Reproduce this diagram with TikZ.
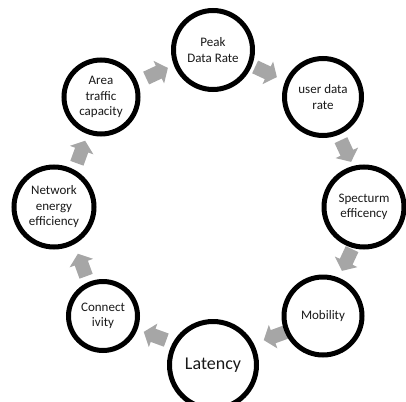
\documentclass[tikz,border=0pt]{standalone}
\usepackage{fontspec}
\setmainfont{Carlito}
\begin{document}
\begin{tikzpicture}[x=1pt,y=-1pt,
  stage/.style={circle, draw=black, line width=5pt, fill=white, align=center,
    font=\fontsize{13}{15.5}\selectfont, text=black!90, inner sep=0pt},
  flowfill/.style={fill=black!35, draw=none},
  blockarrow/.pic={\fill[flowfill] (-12,-7) -- (2,-7) -- (2,-12.5) -- (12,0) -- (2,12.5) -- (2,7) -- (-12,7) -- cycle;}
]
\useasboundingbox (0,0) rectangle (406,401);
\coordinate (a1) at (157,73);
\coordinate (a2) at (266,72);
\coordinate (a3) at (346,151);
\coordinate (a4) at (347,260);
\coordinate (a5) at (275,336);
\coordinate (a6) at (155,336);
\coordinate (a7) at (82,265);
\coordinate (a8) at (81,152);
\pic[rotate=25] at (a1) {blockarrow};
\pic[rotate=-25] at (a2) {blockarrow};
\pic[rotate=-65] at (a3) {blockarrow};
\pic[rotate=-115] at (a4) {blockarrow};
\pic[rotate=200] at (a5) {blockarrow};
\pic[rotate=160] at (a6) {blockarrow};
\pic[rotate=110] at (a7) {blockarrow};
\pic[rotate=70] at (a8) {blockarrow};
\node[stage, minimum size=79pt] (peak) at (213,50) {Peak\\Data Rate};
\node[stage, minimum size=77pt] (user) at (323,97) {user data\\rate};
\node[stage, minimum size=80pt] (spec) at (364,207) {Specturm\\efficency};
\node[stage, minimum size=78pt] (mob) at (323,316) {Mobility};
\node[stage, minimum size=87pt, font=\fontsize{18}{22}\selectfont] (lat) at (213,365) {Latency};
\node[stage, minimum size=69pt] (conn) at (103,316) {Connect\\ivity};
\node[stage, minimum size=80pt] (net) at (54,207) {Network\\energy\\efficiency};
\node[stage, minimum size=74pt] (area) at (101,97) {Area\\traffic\\capacity};
\end{tikzpicture}
\end{document}
